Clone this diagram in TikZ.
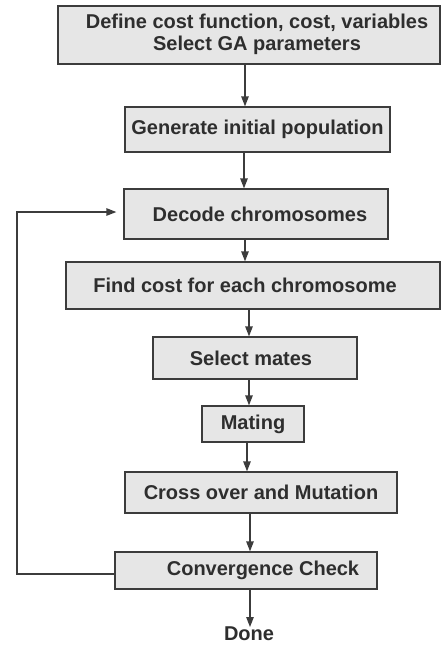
\documentclass[tikz,border=0pt]{standalone}
\usepackage{fontspec}
\setmainfont{Liberation Sans}
\usetikzlibrary{arrows.meta,calc}
\definecolor{boxfill}{HTML}{E6E6E6}
\definecolor{ink}{HTML}{2E2E2E}
\definecolor{edge}{HTML}{3C3C3C}
\begin{document}
\begin{tikzpicture}[x=1pt,y=-1pt,
  box/.style={draw=edge, fill=boxfill, line width=1.3pt, inner sep=0pt,
    font=\fontsize{20}{22}\selectfont\bfseries, text=ink, align=center},
  lbl/.style={inner sep=0pt, font=\fontsize{20}{22}\selectfont\bfseries, text=ink},
  arr/.style={-{Triangle[length=10pt,width=7.5pt]}, draw=edge, line width=1.3pt}]
\useasboundingbox (0,0) rectangle (441,649);
\node[box, minimum width=382pt, minimum height=58pt, text depth=5pt] (def) at (249,35)
  {\hspace*{16pt}Define cost function, cost, variables\\\hspace*{16pt}Select GA parameters};
\node[box, minimum width=265pt, minimum height=45pt] (gen) at (257.5,129.5) {Generate initial population};
\node[box, minimum width=264pt, minimum height=50pt] (dec) at (256,214) {\hspace*{8pt}Decode chromosomes};
\node[box, minimum width=374pt, minimum height=47pt] (find) at (253,285.5) {Find cost for each chromosome\hspace*{16pt}};
\node[box, minimum width=204pt, minimum height=42pt] (sel) at (255,358) {Select mates\hspace*{8pt}};
\node[box, minimum width=102pt, minimum height=36pt] (mat) at (253,424) {Mating};
\node[box, minimum width=272pt, minimum height=41pt] (cross) at (261,492.5) {Cross over and Mutation};
\node[box, minimum width=262pt, minimum height=37pt] (conv) at (246,570.5) {\hspace*{34pt}Convergence Check};
\node[lbl, anchor=north] (done) at (249,627) {Done};
\coordinate (fbx) at (17,0);
\draw[arr] ($(gen.north |- def.south)+(-12.5,0)$) -- ($(gen.north)+(-12.5,0)$);
\draw[arr] ($(dec.north |- gen.south)+(-12,0)$) -- ($(dec.north)+(-12,0)$);
\draw[arr] ($(find.north |- dec.south)+(-8,0)$) -- ($(find.north)+(-8,0)$);
\draw[arr] ($(sel.north |- find.south)+(-6,0)$) -- ($(sel.north)+(-6,0)$);
\draw[arr] ($(mat.north |- sel.south)+(-4,0)$) -- ($(mat.north)+(-4,0)$);
\draw[arr] ($(cross.north |- mat.south)+(-14,0)$) -- ($(cross.north)+(-14,0)$);
\draw[arr] ($(conv.north |- cross.south)+(4,0)$) -- ($(conv.north)+(4,0)$);
\draw[arr] ($(conv.south)+(4,0)$) -- ($(done.north -| conv.south)+(4,0)$);
\draw[arr, shorten >=7pt] ($(conv.west)+(0,3.5)$) -- ($(conv.west -| fbx)+(0,3.5)$) |- ($(dec.west)+(0,-2)$);
\end{tikzpicture}
\end{document}
